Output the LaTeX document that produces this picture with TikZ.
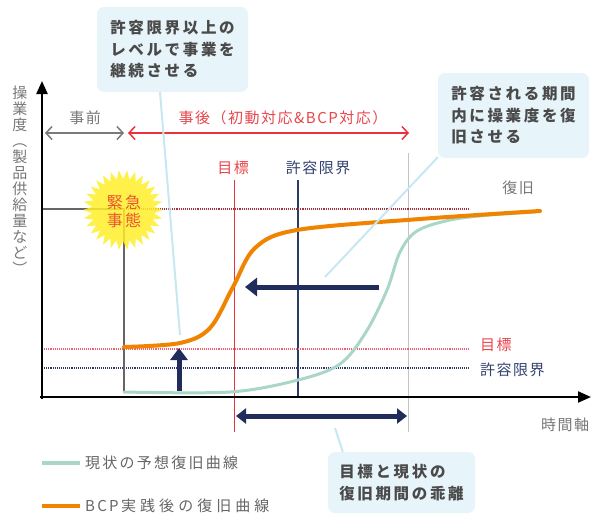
\documentclass[tikz,border=0pt]{standalone}
\usepackage{fontspec}
\setmainfont{Noto Sans CJK JP}
\newfontfamily\labfont{Noto Sans CJK JP}[LetterSpace=10]
\newfontfamily\calfont{Noto Sans CJK JP}[LetterSpace=17]
\newfontfamily\legfont{Noto Sans CJK JP}[LetterSpace=15]
\newfontfamily\legfontb{Noto Sans CJK JP}[LetterSpace=27]
\newfontfamily\starfont{Noto Sans CJK JP}[LetterSpace=14]
\usetikzlibrary{arrows.meta}
\definecolor{navy}{HTML}{1F2C5C}
\definecolor{navytxt}{HTML}{34426F}
\definecolor{redl}{HTML}{E8333F}
\definecolor{redtxt}{HTML}{E8454D}
\definecolor{dotred}{HTML}{A8303C}
\definecolor{dotpink}{HTML}{F0606E}
\definecolor{dotnavy}{HTML}{2B3A6B}
\definecolor{graytxt}{HTML}{777777}
\definecolor{grayarr}{HTML}{7A7A7A}
\definecolor{calbg}{HTML}{E7F4FA}
\definecolor{calline}{HTML}{C7E7F1}
\definecolor{caltxt}{HTML}{4A4A4A}
\definecolor{orangec}{HTML}{F08300}
\definecolor{greenc}{HTML}{A9D6C6}
\definecolor{staryel}{HTML}{FFEE2A}
\definecolor{startxt}{HTML}{EA5532}
\definecolor{evgray}{HTML}{666666}
\definecolor{vgray}{HTML}{C4C4C4}
\tikzset{
  axisline/.style={line width=2.2pt, black, -{Triangle[length=13pt,width=11pt]}},
  lab/.style={inner sep=0pt, font=\labfont\fontsize{15}{18}\selectfont},
  callout/.style={fill=calbg, rounded corners=7pt, inner sep=0pt, align=left,
    text=caltxt, font=\calfont\bfseries\fontsize{15.5}{21.5}\selectfont},
  pointer/.style={calline, line width=2pt},
  dotline/.style={line width=1.1pt, dash pattern=on 1.1pt off 1pt},
  thickarr/.style={navy, line width=5pt},
  periodarr/.style={line width=1.5pt, {Straight Barb[length=6pt,width=13pt]}-{Straight Barb[length=6pt,width=13pt]}},
  legtext/.style={anchor=west, inner sep=0pt, text=evgray},
}
\begin{document}
\begin{tikzpicture}[x=1pt,y=-1pt]
\useasboundingbox (0,0) rectangle (601,514);
% coordinates
\coordinate (Ytop) at (42,81);
\coordinate (Xend) at (591,397);
\coordinate (Ybot) at (42,399);
\coordinate (Xbeg) at (40,397);

% period arrows
\coordinate (preL) at (45,133);
\coordinate (preR) at (124,133);
\coordinate (postL) at (128,133);
\coordinate (postR) at (409,133);
\draw[periodarr, grayarr] (preL) -- (preR);
\draw[periodarr, redl] (postL) -- (postR);
\node[lab, text=graytxt] (tpre) at (85,118) {事前};
\node[lab, text=redtxt] (tpost) at (283,118) {事後（初動対応\&BCP対応）};

% vertical lines
\node[lab, text=redtxt] (tgoal) at (233,168) {目標};
\node[lab, text=navytxt] (tlimit) at (318,168) {許容限界};
\coordinate (rt) at (234,180); \coordinate (rb) at (234,432);
\coordinate (nt) at (298,180); \coordinate (nb) at (298,397);
\coordinate (gt) at (408,153); \coordinate (gb) at (408,432);
\draw[redl, line width=1pt] (rt) -- (rb);
\draw[dotnavy, line width=1.2pt] (nt) -- (nb);
\draw[vgray, line width=1pt] (gt) -- (gb);

% horizontal dotted lines
\coordinate (d1l) at (42,209); \coordinate (d1r) at (470,209);
\coordinate (d2l) at (42,349); \coordinate (d2r) at (470,349);
\coordinate (d3l) at (42,368); \coordinate (d3r) at (470,368);
\draw[dotline, dotred] (d1l) -- (d1r);
\draw[dotline, dotpink] (d2l) -- (d2r);
\draw[dotline, dotnavy] (d3l) -- (d3r);
\node[lab, text=graytxt] (trec) at (518,188) {復旧};
\node[lab, text=redtxt, anchor=west] (tgoal2) at (480,345) {目標};
\node[lab, text=navytxt, anchor=west] (tlimit2) at (480,370) {許容限界};

% event line
\coordinate (e1) at (42,209); \coordinate (e2) at (124,209); \coordinate (e3) at (124,393);
\draw[evgray, line width=2.5pt] (e1) -- (e2) -- (e3);

% curves
\draw[greenc, line width=3pt, line cap=round] plot[smooth, tension=0.55] coordinates
  {(124,392) (230,392) (298,380) (340,364) (366,332) (387,290) (400,252) (417,231) (450,220) (490,215) (535,212)};
\draw[orangec, line width=4pt, line cap=round] plot[smooth, tension=0.55] coordinates
  {(124,347) (180,343) (210,328) (233,287) (255,248) (297,230) (420,219) (540,211)};

% axes
\draw[axisline] (Ybot) -- (Ytop);
\draw[axisline] (Xbeg) -- (Xend);
\node[lab, text=graytxt] (taxis) at (565,425) {時間軸};
\node[inner sep=0pt, align=center, text=graytxt, font=\fontsize{15}{16}\selectfont] (ylab) at (20,180)
  {操\\業\\度\\︵\\製\\品\\供\\給\\量\\な\\ど\\︶};

% star
\begin{scope}[shift={(123,210)}]
\fill[staryel, fill opacity=0.85] (0:40)
  \foreach \i in {1,...,59} { -- ({\i*6}:{ifthenelse(mod(\i,2)==0,40,31)}) } -- cycle;
\end{scope}
\node[inner sep=0pt, align=center, text=startxt, font=\starfont\fontsize{16}{18}\selectfont] (star) at (124,211) {緊急\\事態};

% thick arrows
\coordinate (u1) at (179,391); \coordinate (u2) at (179,348);
\coordinate (l1) at (379,287); \coordinate (l2) at (245,287);
\coordinate (g1) at (236,416); \coordinate (g2) at (407,416);
\draw[thickarr, -{Triangle[length=12pt,width=17pt]}] (u1) -- (u2);
\draw[thickarr, -{Triangle[length=12pt,width=18pt]}] (l1) -- (l2);
\draw[thickarr, {Triangle[length=10pt,width=15pt]}-{Triangle[length=10pt,width=15pt]}] (g1) -- (g2);

% callouts
\node[callout, minimum width=151pt, minimum height=85pt] (c1) at (172.5,49.5)
  {許容限界以上の\\レベルで事業を\\継続させる};
\node[callout, minimum width=151pt, minimum height=85pt] (c2) at (513.5,115.5)
  {許容される期間\\内に操業度を復\\旧させる};
\node[callout, minimum width=147pt, minimum height=61pt] (c3) at (401.5,482.5)
  {目標と現状の\\復旧期間の乖離};
\coordinate (p1) at (180,335);
\coordinate (p2) at (325,277);
\coordinate (p3) at (335,428);
\draw[pointer] (c1.south) ++(-12.5,0) coordinate (c1p) -- (p1);
\draw[pointer] (c2.south west) ++(0,-1) coordinate (c2p) -- (p2);
\draw[pointer] (c3.north west) ++(15,0) coordinate (c3p) -- (p3);

% legend
\coordinate (lg1a) at (42,463); \coordinate (lg1b) at (80,463);
\coordinate (lg2a) at (42,506); \coordinate (lg2b) at (80,506);
\draw[greenc, line width=4pt] (lg1a) -- (lg1b);
\draw[orangec, line width=4pt] (lg2a) -- (lg2b);
\node[legtext, font=\legfont\fontsize{15}{18}\selectfont] (leg1) at (85,463) {現状の予想復旧曲線};
\node[legtext, font=\legfont\fontsize{15}{18}\selectfont] (leg2) at (85,506) {BCP\,{\legfontb 実践後の復旧曲線}};
\end{tikzpicture}
\end{document}
